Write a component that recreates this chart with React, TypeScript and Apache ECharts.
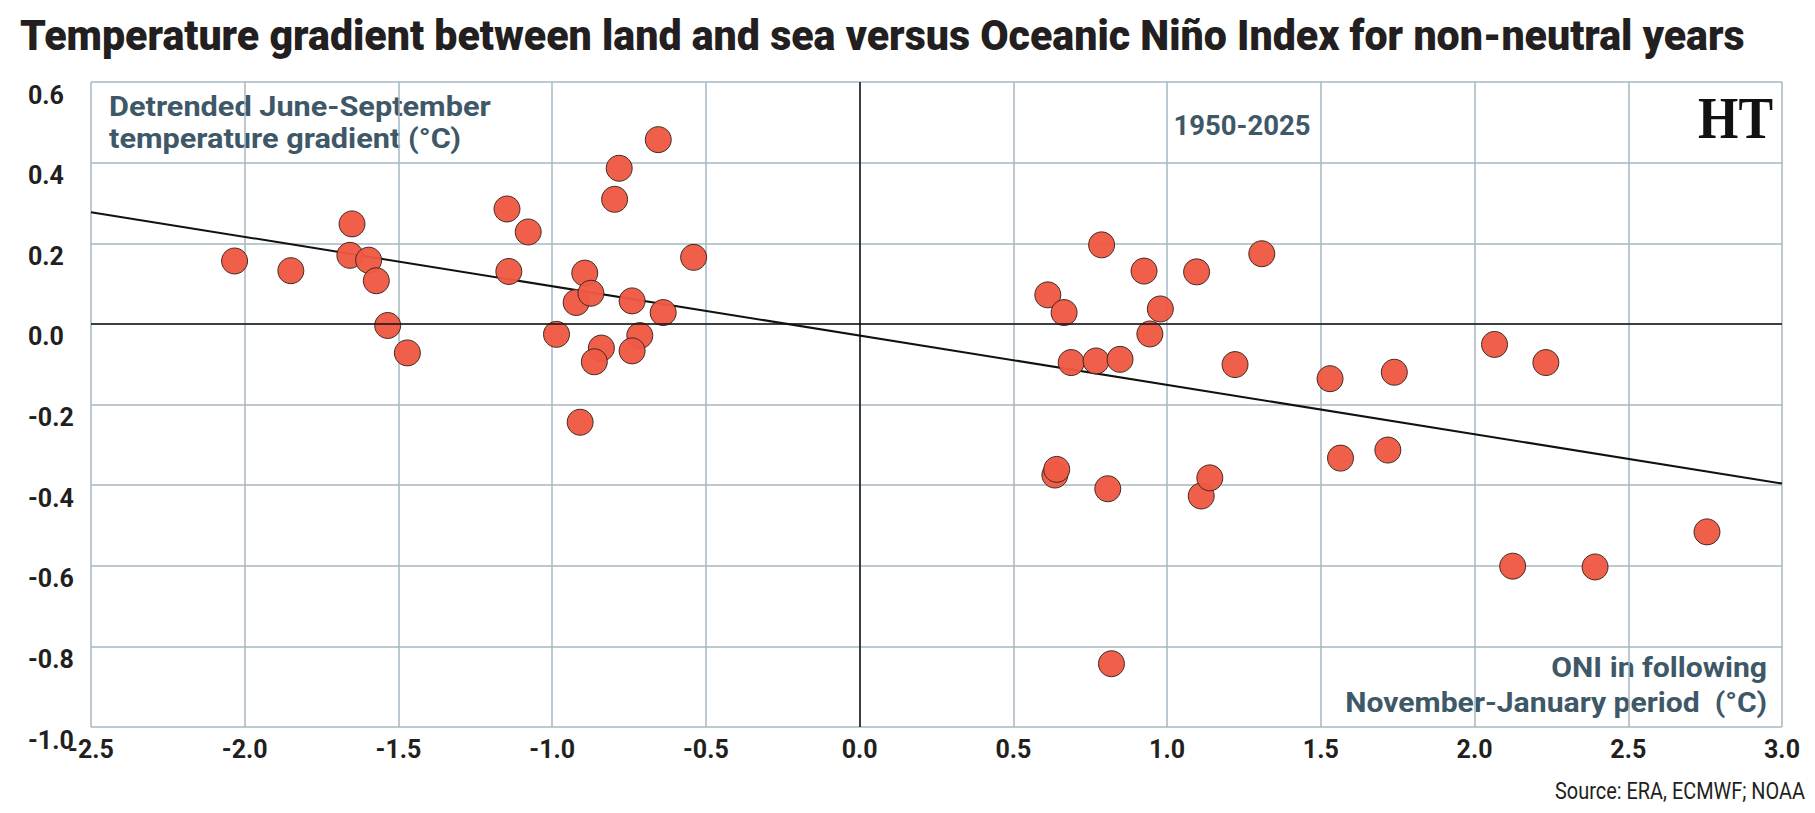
import React, { useEffect, useRef } from "react";
import * as echarts from "echarts";

const FONT = "Roboto, 'Noto Sans', sans-serif";

const titleText = "Temperature gradient between land and sea versus Oceanic Niño Index for non-neutral years";
const yAxisTitle = "Detrended June-September\ntemperature gradient (°C)";
const xAxisTitle = "ONI in following\nNovember-January period  (°C)";
const periodLabel = "1950-2025";
const sourceText = "Source: ERA, ECMWF; NOAA";
const logoText = "HT";

const xTicks = { min: -2.5, max: 3.0, interval: 0.5 };
const yTicks = { min: -1.0, max: 0.6, interval: 0.2 };

// ONI (x) values
const oniValues = [
  -2.033, -1.85, -1.651, -1.658, -1.597, -1.572, -1.535, -1.471, -1.147, -1.078,
  -1.141, -0.986, -0.922, -0.894, -0.874, -0.84, -0.863, -0.909, -0.797, -0.782,
  -0.655, -0.74, -0.715, -0.74, -0.639, -0.54,
  0.787, 0.925, 1.096, 1.308, 0.612, 0.665, 0.978, 0.944, 0.688, 0.769,
  0.847, 1.221, 1.53, 1.739, 2.065, 2.232, 1.564, 1.718, 0.635, 0.641,
  0.807, 1.111, 1.139, 2.756, 2.124, 2.392, 0.819,
];

// Detrended temperature gradient (y) values
const gradientValues = [
  0.156, 0.132, 0.248, 0.17, 0.158, 0.107, -0.004, -0.072, 0.285, 0.228,
  0.13, -0.026, 0.053, 0.126, 0.076, -0.06, -0.094, -0.244, 0.309, 0.386,
  0.457, 0.057, -0.029, -0.067, 0.028, 0.165,
  0.196, 0.131, 0.129, 0.174, 0.072, 0.028, 0.037, -0.025, -0.096, -0.092,
  -0.088, -0.101, -0.136, -0.12, -0.051, -0.096, -0.333, -0.313, -0.375, -0.361,
  -0.409, -0.427, -0.382, -0.516, -0.601, -0.603, -0.843,
];

// Trend line end points
const trendX = [-2.5, 3.0];
const trendY = [0.277, -0.396];

function fitScale(text: string, font: string, target: number): number {
  const canvas = document.createElement("canvas");
  const ctx = canvas.getContext("2d");
  if (!ctx) return 1;
  ctx.font = font;
  const w = Math.max(...text.split("\n").map((l) => ctx.measureText(l).width));
  return w > 0 ? target / w : 1;
}

export default function App() {
  const ref = useRef<HTMLDivElement>(null);

  useEffect(() => {
    if (!ref.current) return;
    const chart = echarts.init(ref.current, undefined, { renderer: "svg" });
    const points = oniValues.map((x, i) => [x, gradientValues[i]]);
    const trend = trendX.map((x, i) => [x, trendY[i]]);
    const gridColor = "#a7b7c2";
    const slate = "#3e5867";
    const ink = "#231f20";

    const titleSize = 42;
    const subSize = 28;
    const srcSize = 23;
    const logoFont = "'Liberation Serif', 'DejaVu Serif', serif";
    const titleScale = fitScale(titleText, `900 ${titleSize}px ${FONT}`, 1726);
    const yTitleScale = fitScale(yAxisTitle, `bold ${subSize}px ${FONT}`, 382);
    const xTitleScale = fitScale(xAxisTitle, `bold ${subSize}px ${FONT}`, 422);
    const periodScale = fitScale(periodLabel, `bold ${subSize}px ${FONT}`, 137);
    const srcScale = fitScale(sourceText, `${srcSize}px ${FONT}`, 250);
    const logoScale = fitScale(logoText, `bold 60px ${logoFont}`, 75);

    chart.setOption({
      animation: false,
      backgroundColor: "#ffffff",
      grid: {
        left: 91,
        right: 33,
        top: 82,
        bottom: 86,
        containLabel: false,
        outerBoundsMode: "none",
        show: false,
      },
      xAxis: {
        type: "value",
        min: xTicks.min,
        max: xTicks.max,
        interval: xTicks.interval,
        axisLine: { show: false },
        axisTick: { show: false },
        splitLine: { show: true, lineStyle: { color: gridColor, width: 1.5 } },
        axisLabel: {
          margin: 10,
          color: ink,
          fontFamily: FONT,
          fontWeight: "bold",
          fontSize: 25,
          formatter: (v: number) => v.toFixed(1),
        },
      },
      yAxis: {
        type: "value",
        min: yTicks.min,
        max: yTicks.max,
        interval: yTicks.interval,
        axisLine: { show: false },
        axisTick: { show: false },
        splitLine: { show: true, lineStyle: { color: gridColor, width: 1.5 } },
        axisLabel: {
          margin: 63,
          align: "left",
          verticalAlign: "top",
          lineHeight: 26,
          color: ink,
          fontFamily: FONT,
          fontWeight: "bold",
          fontSize: 25,
          formatter: (v: number) => v.toFixed(1),
        },
      },
      series: [
        {
          type: "line",
          data: trend,
          showSymbol: false,
          symbol: "none",
          silent: true,
          z: 1,
          lineStyle: { color: "#111111", width: 2 },
          markLine: {
            silent: true,
            symbol: "none",
            label: { show: false },
            lineStyle: { color: "#111111", width: 1.5, type: "solid" },
            data: [{ xAxis: 0 }, { yAxis: 0 }],
          },
        },
        {
          type: "scatter",
          data: points,
          symbol: "circle",
          symbolSize: 26,
          z: 3,
          itemStyle: {
            color: "#ef5843",
            borderColor: "#3a2520",
            borderWidth: 1,
            opacity: 0.96,
          },
        },
      ],
      graphic: [
        {
          type: "text",
          x: 20,
          y: 14,
          scaleX: titleScale,
          style: {
            text: titleText,
            fill: ink,
            fontFamily: FONT,
            fontWeight: 900,
            fontSize: titleSize,
            align: "left",
            verticalAlign: "top",
          },
        },
        {
          type: "text",
          x: 109,
          y: 90,
          scaleX: yTitleScale,
          style: {
            text: yAxisTitle,
            fill: slate,
            fontFamily: FONT,
            fontWeight: "bold",
            fontSize: subSize,
            lineHeight: 32,
            align: "left",
            verticalAlign: "top",
          },
        },
        {
          type: "text",
          x: 1242,
          y: 111,
          scaleX: periodScale,
          style: {
            text: periodLabel,
            fill: slate,
            fontFamily: FONT,
            fontWeight: "bold",
            fontSize: subSize,
            align: "center",
            verticalAlign: "top",
          },
        },
        {
          type: "text",
          x: 1773,
          y: 88,
          scaleX: logoScale,
          style: {
            text: logoText,
            fill: "#111111",
            fontFamily: logoFont,
            fontWeight: "bold",
            fontSize: 60,
            align: "right",
            verticalAlign: "top",
          },
        },
        {
          type: "text",
          x: 1767,
          y: 650,
          scaleX: xTitleScale,
          style: {
            text: xAxisTitle,
            fill: slate,
            fontFamily: FONT,
            fontWeight: "bold",
            fontSize: subSize,
            lineHeight: 35,
            align: "right",
            verticalAlign: "top",
          },
        },
        {
          type: "text",
          x: 1805,
          y: 779,
          scaleX: srcScale,
          style: {
            text: sourceText,
            fill: ink,
            fontFamily: FONT,
            fontSize: srcSize,
            align: "right",
            verticalAlign: "top",
          },
        },
      ],
    });

    return () => chart.dispose();
  }, []);

  return (
    <div
      ref={ref}
      style={{ position: "absolute", left: 0, top: 0, width: 1815, height: 813, background: "#fff" }}
    />
  );
}
